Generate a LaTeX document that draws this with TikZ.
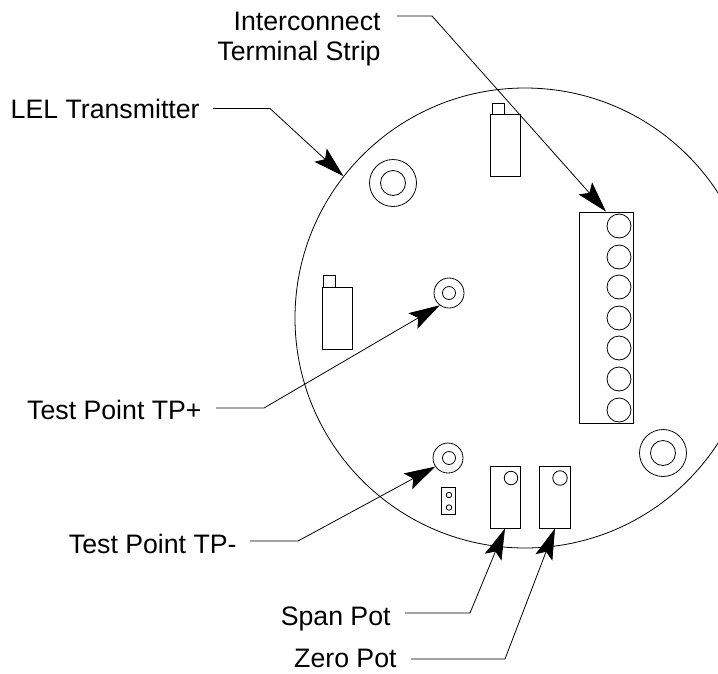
\documentclass[tikz,border=0pt]{standalone}
\usepackage{fontspec}
\setmainfont{Liberation Sans}
\usetikzlibrary{arrows.meta}
\begin{document}
\begin{tikzpicture}[
        x = 1pt, y = -1pt, line width = 0.8pt,
        txt/.style = {font = \fontsize{26.7}{30}\selectfont, inner sep = 0mm},
        hole/.style = {draw, circle, inner sep = 0mm, minimum size = #1},
        part/.style = {draw, rectangle, inner sep = 0mm, minimum width = 30pt, minimum height = 62pt},
        arr/.style = {draw, -{Stealth[length = 31pt, width = 18pt, inset = 6pt]}},
    ]
    \clip (0, 0) rectangle (718, 673);

    \node (board) at (525, 318) [hole = 460pt] {};

    \node (ringA) at (393, 183) [hole = 47pt] {};
    \node (ringAin) at (393, 183) [hole = 25pt] {};
    \node (ringB) at (663, 453) [hole = 47pt] {};
    \node (ringBin) at (663, 453) [hole = 25pt] {};

    \node (TPplus) at (449, 293) [hole = 30pt] {};
    \node (TPplusin) at (449, 293) [hole = 13pt] {};
    \node (TPminus) at (448, 458) [hole = 30pt] {};
    \node (TPminusin) at (449, 458) [hole = 13pt] {};

    \node (relayA) at (505, 145) [part] {};
    \node (tabA) at (498, 108.5) [draw, minimum width = 12pt, minimum height = 11pt, inner sep = 0mm] {};
    \node (relayB) at (337, 318) [part] {};
    \node (tabB) at (329, 281) [draw, minimum width = 12pt, minimum height = 12pt, inner sep = 0mm] {};

    \node (strip) at (606, 317.5) [draw, minimum width = 54pt, minimum height = 211pt, inner sep = 0mm] {};
    \foreach \i/\y in {1/226, 2/257, 3/287, 4/318, 5/348, 6/379, 7/410} {
        \node (term\i) at (619, \y) [hole = 24pt] {};
    }

    \node (jumper) at (448.5, 501) [draw, minimum width = 13.5pt, minimum height = 27pt, inner sep = 0mm] {};
    \node (pinA) at (449, 495) [hole = 5.5pt] {};
    \node (pinB) at (449, 507.5) [hole = 5.5pt] {};

    \node (span) at (505, 497) [part] {};
    \node (spanhole) at (511, 478) [hole = 13.5pt] {};
    \node (zero) at (555, 497) [part, minimum width = 31pt] {};
    \node (zerohole) at (560, 478) [hole = 14.5pt] {};

    \node (Lstrip) at (381, 39) [txt, align = right, anchor = east] {Interconnect\\Terminal Strip};
    \node (Lboard) at (200, 118) [txt, anchor = base east] {LEL Transmitter};
    \node (Lplus) at (202, 419) [txt, anchor = base east] {Test Point TP+};
    \node (Lminus) at (237, 553) [txt, anchor = base east] {Test Point TP-};
    \node (Lspan) at (391, 625) [txt, anchor = base east] {Span Pot};
    \node (Lzero) at (397, 667) [txt, anchor = base east] {Zero Pot};

    % free ends and bends of the leaders
    \coordinate (Sstrip) at (397, 16);
    \coordinate (Bstrip) at (432, 16);
    \coordinate (Sboard) at (213, 108.5);
    \coordinate (Bboard) at (270, 108.5);
    \coordinate (Splus) at (216, 408);
    \coordinate (Bplus) at (264, 408);
    \coordinate (Sminus) at (250, 541);
    \coordinate (Bminus) at (298, 541);
    \coordinate (Sspan) at (405, 613);
    \coordinate (Bspan) at (470, 613);
    \coordinate (Szero) at (411, 659);
    \coordinate (Bzero) at (505, 659);

    \path[arr] (Sstrip) -- (Bstrip) -- (strip.north);
    \path[arr] (Sboard) -- (Bboard) -- (board.142);
    \path[arr] (Splus) -- (Bplus) -- (TPplus.233);
    \path[arr] (Sminus) -- (Bminus) -- (TPminus.214);
    \path[arr] (Sspan) -- (Bspan) -- (span.south);
    \path[arr] (Szero) -- (Bzero) -- (zero.south);
\end{tikzpicture}
\end{document}
